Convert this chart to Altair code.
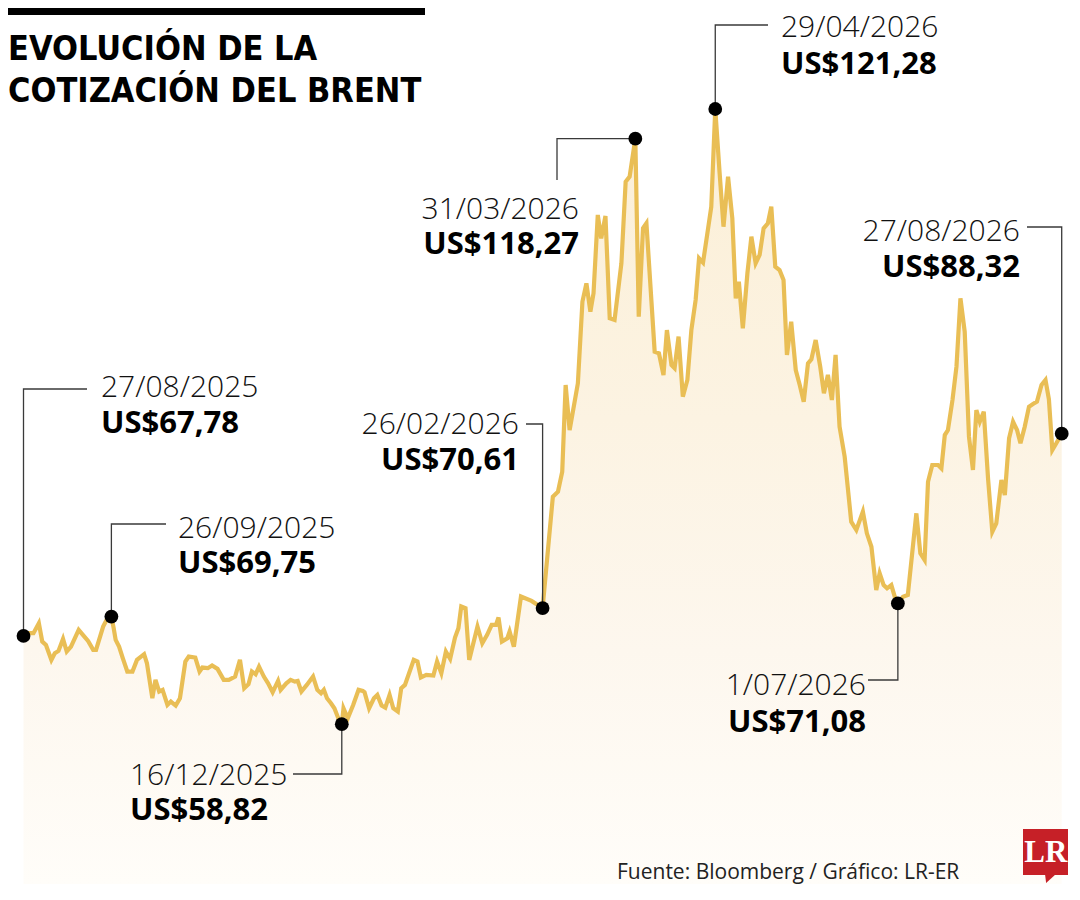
import altair as alt
import pandas as pd

# ---------------- data ----------------
# Position along the year (days since 27/08/2025) and Brent price (US$ per barrel)
DAYS = [0, 1.0, 3.5, 5.4, 6.6, 7.9, 9.8, 11.0, 12.3, 13.9,
        15.2, 16.7, 19.4, 21.1, 22.7, 24.5, 25.5, 28.0, 29.2, 30.9,
        31.7, 32.4, 33.6, 34.9, 36.5, 38.3, 39.9, 42.4, 43.4, 45.3,
        46.4, 47.7, 48.9, 50.6, 51.8, 53.5, 55.0, 56.9, 58.1, 60.4,
        61.9, 62.9, 64.8, 66.3, 68.2, 70.4, 72.2, 74.4, 76.1, 77.6,
        79.1, 80.3, 81.6, 82.8, 84.5, 86.0, 87.6, 89.5, 90.4, 92.4,
        93.9, 95.4, 96.4, 97.7, 99.6, 101.8, 103.3, 104.6, 105.6, 106.7,
        108.1, 109.3, 110.9, 111.9, 112.5, 114.0, 115.9, 117.8, 119.3, 119.9,
        121.5, 123.2, 124.4, 125.9, 127.2, 128.7, 130.0, 131.6, 132.8, 134.1,
        137.2, 138.5, 139.7, 141.6, 144.1, 145.4, 146.9, 148.5, 150.0, 151.7,
        152.9, 153.9, 155.4, 156.7, 159.6, 161.3, 163.0, 164.6, 166.1, 167.0,
        168.2, 170.1, 170.9, 172.4, 174.9, 178.6, 182.5,
        186.1, 187.9, 189.4, 190.6, 192.0, 194.9, 196.5, 197.9, 199.3, 200.4,
        201.9, 203.1, 204.6, 206.1, 207.8, 210.2, 211.7, 213.1, 215.1, 216.3,
        217.8, 219.0, 221.9, 223.4, 225.0, 226.2, 227.8, 228.9, 230.3, 231.8,
        233.4, 234.8, 236.3, 237.5, 238.9, 240.6, 241.8, 243.2, 244.7, 246.1,
        247.7, 249.2, 250.4, 251.5, 252.9, 254.5, 255.9, 257.4, 258.8, 260.2,
        261.7, 262.9, 264.3, 265.8, 267.2, 268.4, 269.9, 271.5, 272.9, 274.3,
        275.8, 277.0, 278.5, 280.1, 281.4, 282.8, 284.2, 285.5, 286.9, 288.7,
        291.0, 292.8, 295.1, 296.5, 298.1, 299.8, 301.0, 302.4, 303.6, 305.1,
        306.3, 307.4, 309.2, 310.9, 313.9, 315.3, 316.8, 318.0, 319.5, 321.5,
        322.7, 323.9, 325.0, 326.6, 328.0, 329.4, 330.9, 332.4, 333.8, 335.0,
        336.2, 337.6, 339.1, 340.6, 342.0, 343.8, 345.0, 346.5, 347.9, 349.3,
        350.5, 352.0, 353.5, 354.9, 356.3, 357.9, 359.3, 360.5, 361.7, 363.1,
        365.0]

PRICES = [67.78, 68.06, 68.06, 69.07, 67.21, 66.87, 65.35, 66.03, 66.26, 67.48,
          66.20, 66.70, 68.40, 67.82, 67.28, 66.37, 66.37, 68.74, 69.41, 69.75,
          68.57, 67.38, 66.70, 65.52, 64.17, 64.17, 65.35, 65.93, 65.01, 61.46,
          63.32, 62.14, 62.31, 60.78, 61.12, 60.72, 61.46, 65.18, 65.69, 65.59,
          64.17, 64.57, 64.51, 64.78, 64.44, 63.32, 63.32, 63.66, 65.35, 62.47,
          62.88, 64.17, 63.90, 64.67, 63.66, 62.98, 62.07, 63.22, 62.31, 62.98,
          63.32, 63.15, 63.22, 62.14, 62.81, 63.66, 62.31, 61.97, 62.31, 61.46,
          60.95, 60.44, 59.26, 58.82, 60.44, 59.43, 60.78, 62.31, 62.20, 62.07,
          60.44, 61.46, 61.80, 60.72, 60.51, 61.80, 60.44, 60.11, 62.47, 62.81,
          65.35, 65.18, 63.56, 63.83, 63.76, 65.18, 64.00, 66.20, 65.45, 67.62,
          68.57, 70.77, 70.60, 65.35, 68.74, 67.04, 67.89, 68.90, 68.90, 69.65,
          67.21, 67.55, 68.23, 66.70, 71.78, 71.34, 70.61,
          81.92, 82.43, 84.46, 93.26, 88.69, 93.43, 101.72, 103.58, 100.70, 102.57,
          110.52, 108.15, 110.42, 100.03, 99.86, 105.61, 113.90, 114.41, 118.27, 100.19,
          109.17, 109.68, 96.64, 96.48, 94.27, 98.84, 95.29, 94.96, 98.17, 92.07,
          93.77, 98.84, 101.89, 106.12, 105.68, 109.00, 111.36, 121.28, 114.91, 109.33,
          114.41, 110.18, 102.06, 103.75, 99.02, 104.60, 108.32, 105.61, 106.46, 109.17,
          109.68, 111.36, 105.27, 104.93, 103.92, 96.31, 99.69, 94.78, 93.26, 91.57,
          95.46, 95.87, 97.83, 95.12, 92.42, 94.28, 91.74, 96.31, 89.03, 85.98,
          79.38, 78.54, 80.40, 78.20, 76.84, 72.45, 74.14, 72.95, 72.62, 72.95,
          71.77, 71.08, 71.77, 71.94, 80.23, 76.17, 75.49, 83.44, 85.14, 85.14,
          84.80, 88.18, 88.69, 91.74, 95.12, 102.06, 98.67, 88.01, 84.63, 90.72,
          89.53, 90.55, 83.79, 78.37, 79.22, 83.61, 82.09, 87.85, 89.53, 88.69,
          87.34, 89.03, 91.06, 91.33, 91.57, 93.26, 93.77, 91.81, 86.66, 87.34,
          88.32]

# highlighted points
ANN_DAYS = [0, 30.9, 111.9, 182.5, 215.1, 243.2, 307.4, 365.0]
ANN_PRICES = [67.78, 69.75, 58.82, 70.61, 118.27, 121.28, 71.08, 88.32]
ANN_DATES = ["27/08/2025", "26/09/2025", "16/12/2025", "26/02/2026",
             "31/03/2026", "29/04/2026", "1/07/2026", "27/08/2026"]

TITLE_LINES = ["EVOLUCIÓN DE LA", "COTIZACIÓN DEL BRENT"]
SOURCE = "Fuente: Bloomberg / Gráfico: LR-ER"
LOGO_TEXT = "LR"

# ---------------- layout / style ----------------
W, H = 1062, 876
PX_DAY = 2.8444          # pixels per day
PX_USD = 9.85            # pixels per dollar
D0 = -15.5 / PX_DAY
D1 = D0 + W / PX_DAY
Y1 = 121.28 + 101 / PX_USD
Y0 = Y1 - H / PX_USD

PAGE = 8  # page margin: layout below is given in page pixels


def day_at(xp):
    return D0 + (xp - PAGE) / PX_DAY


def usd_at(yp):
    return Y1 - (yp - PAGE) / PX_USD


# leader paths ("d" = the highlighted point itself), text anchor and baselines (page px)
LAYOUT = [
    dict(path=[("d", "d"), ("d", 389), (87, 389)], tx=101, align="left", yd=397, yv=433),
    dict(path=[("d", "d"), ("d", 524), (166, 524)], tx=178, align="left", yd=538, yv=573),
    dict(path=[("d", "d"), ("d", 774), (293, 774)], tx=130, align="left", yd=785, yv=820),
    dict(path=[("d", "d"), ("d", 424), (526, 424)], tx=519, align="right", yd=434, yv=470),
    dict(path=[("d", "d"), (557, "d"), (557, 180)], tx=579, align="right", yd=219, yv=254),
    dict(path=[("d", "d"), ("d", 25), (768, 25)], tx=781, align="left", yd=37, yv=74),
    dict(path=[("d", "d"), ("d", 680), (868, 680)], tx=866, align="right", yd=695, yv=732),
    dict(path=[("d", "d"), ("d", 227), (1027, 227)], tx=1020, align="right", yd=241, yv=277),
]

LINE_COLOR = "#e9be55"
LABEL_FONT = "Open Sans"
TITLE_FONT = "DejaVu Sans Condensed"

# ---------------- build tables ----------------
series = pd.DataFrame({"day": DAYS, "price": PRICES})
points = pd.DataFrame({"day": ANN_DAYS, "price": ANN_PRICES, "fecha": ANN_DATES})

leader_rows, text_rows = [], []
for i, (d, p, lab) in enumerate(zip(ANN_DAYS, ANN_PRICES, ANN_DATES)):
    lay = LAYOUT[i]
    for s, (xp, yp) in enumerate(lay["path"]):
        leader_rows.append({
            "id": i, "seq": s,
            "day": d if xp == "d" else day_at(xp),
            "price": p if yp == "d" else usd_at(yp),
        })
    text_rows.append({
        "id": i, "align": lay["align"],
        "day": day_at(lay["tx"]),
        "p_date": usd_at(lay["yd"]),
        "p_val": usd_at(lay["yv"]),
        "fecha": lab,
        "valor": "US$" + f"{p:.2f}".replace(".", ","),
    })
leaders = pd.DataFrame(leader_rows)
texts = pd.DataFrame(text_rows)

xs = alt.Scale(domain=[D0, D1], nice=False, zero=False)
ys = alt.Scale(domain=[Y0, Y1], nice=False, zero=False)
X = alt.X("day:Q", scale=xs, axis=None)

gradient = {
    "gradient": "linear", "x1": 0, "y1": 0, "x2": 0, "y2": 1,
    "stops": [
        {"offset": 0, "color": "#fbefd7"},
        {"offset": 0.4, "color": "#fcf3e2"},
        {"offset": 0.7, "color": "#fdf7ee"},
        {"offset": 1, "color": "#fffdf9"},
    ],
}

area = alt.Chart(series).mark_area(color=gradient).encode(
    x=X, y=alt.Y("price:Q", scale=ys, axis=None), y2=alt.datum(Y0)
)
line = alt.Chart(series).mark_line(color=LINE_COLOR, strokeWidth=4.2, strokeJoin="miter").encode(
    x=X, y=alt.Y("price:Q", scale=ys, axis=None)
)
lead = alt.Chart(leaders).mark_line(color="#3a3a3a", strokeWidth=1.3, strokeJoin="miter").encode(
    x=X, y=alt.Y("price:Q", scale=ys, axis=None), detail="id:N", order="seq:Q"
)
dots = alt.Chart(points).mark_circle(size=190, color="#000000", opacity=1).encode(
    x=X, y=alt.Y("price:Q", scale=ys, axis=None)
)

text_layers = []
for al in ["left", "right"]:
    sub = texts[texts["align"] == al]
    text_layers.append(
        alt.Chart(sub).mark_text(align=al, baseline="alphabetic", font=LABEL_FONT,
                                 fontSize=30, fontWeight=300, color="#111111").encode(
            x=X, y=alt.Y("p_date:Q", scale=ys, axis=None), text="fecha:N")
    )
    text_layers.append(
        alt.Chart(sub).mark_text(align=al, baseline="alphabetic", font=LABEL_FONT,
                                 fontSize=31, fontWeight=700, color="#000000").encode(
            x=X, y=alt.Y("p_val:Q", scale=ys, axis=None), text="valor:N")
    )

one = pd.DataFrame({"k": [0]})
top_bar = alt.Chart(one).mark_rect(color="#000000").encode(
    x=alt.value(0), x2=alt.value(417), y=alt.value(0), y2=alt.value(7)
)
title_layers = [
    alt.Chart(one).mark_text(align="left", baseline="alphabetic", font=TITLE_FONT,
                             fontSize=34, fontWeight="bold", color="#000000").encode(
        x=alt.value(0), y=alt.value(yb), text=alt.value(t))
    for t, yb in zip(TITLE_LINES, [52, 93.5])
]
source = alt.Chart(one).mark_text(align="left", baseline="alphabetic", font=LABEL_FONT,
                                  fontSize=21, fontWeight=400, color="#222222").encode(
    x=alt.value(609), y=alt.value(871), text=alt.value(SOURCE))
logo_box = alt.Chart(one).mark_rect(color="#c62027").encode(
    x=alt.value(1015), x2=alt.value(1060), y=alt.value(821), y2=alt.value(867))
logo_tail = alt.Chart(one).mark_point(shape="M-1,-0.8 L1,-0.8 L-0.8,0.8 Z", size=121,
                                      filled=True, color="#c62027", opacity=1).encode(
    x=alt.value(1042.5), y=alt.value(870.5))
logo_txt = alt.Chart(one).mark_text(align="center", baseline="alphabetic", font="Liberation Serif",
                                    fontSize=31, fontWeight="bold", color="#ffffff").encode(
    x=alt.value(1037.8), y=alt.value(854), text=alt.value(LOGO_TEXT))

chart = alt.layer(
    area, line, lead, dots, *text_layers, top_bar, *title_layers, source,
    logo_box, logo_tail, logo_txt
).properties(
    width=W, height=H, padding=0, autosize=alt.AutoSizeParams(type="none"),
    background="#ffffff"
).configure_view(stroke=None)

chart.save("out.html", embed_options={"renderer": "svg", "actions": False})
